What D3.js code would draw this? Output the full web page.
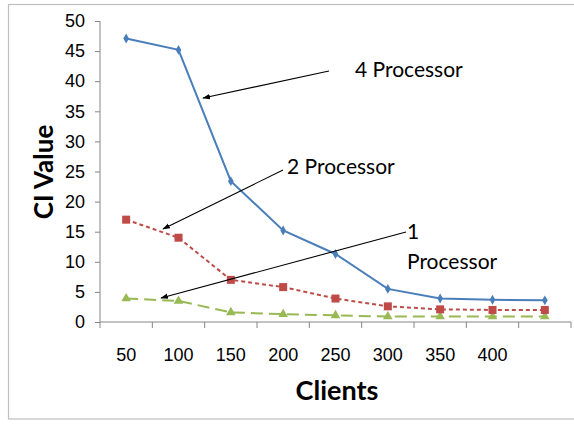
<!DOCTYPE html>
<html><head><meta charset="utf-8">
<script src="https://cdn.jsdelivr.net/npm/d3@7"></script>
<style>html,body{margin:0;padding:0;background:#fff;}svg{display:block;font-family:Lato,"Open Sans",sans-serif;}</style>
</head><body>
<svg id="c" width="574" height="424"></svg>
<script>
const clients = ["50","100","150","200","250","300","350","400","450"];
const tickLabels = ["50","100","150","200","250","300","350","400",""];
const p4 = [47.1, 45.2, 23.4, 15.2, 11.3, 5.5, 3.9, 3.7, 3.6];
const p2 = [17.0, 14.0, 7.0, 5.8, 3.9, 2.6, 2.1, 2.0, 2.0];
const p1 = [3.9, 3.5, 1.6, 1.3, 1.1, 0.9, 0.9, 0.9, 0.9];
const yTicks = [0,5,10,15,20,25,30,35,40,45,50];

const svg = d3.select("#c");
svg.append("rect").attr("x",8.5).attr("y",4.5).attr("width",570).attr("height",414.5)
  .attr("fill","#fff").attr("stroke","#bfbfbf").attr("stroke-width",1.2);

const L=100, R=571, T=21, B=322;
const x = d3.scaleBand().domain(clients).range([L,R]);
const y = d3.scaleLinear().domain([0,50]).range([B,T]);

// y axis
const ya = svg.append("g").attr("transform",`translate(${L},0)`)
  .call(d3.axisLeft(y).tickValues(yTicks).tickSize(5).tickPadding(10));
ya.selectAll("path").attr("stroke","#868686").attr("d",`M-0,${T}V${B}`);
ya.selectAll("line").attr("stroke","#868686");
ya.selectAll("text").attr("font-size",18).attr("fill","#000");

// x axis
const xa = svg.append("g").attr("transform",`translate(0,${B})`)
  .call(d3.axisBottom(x).tickSize(0).tickPadding(26).tickFormat((d,i)=>tickLabels[i]));
xa.selectAll("path").attr("stroke","#868686").attr("d",`M${L},0H${R}`);
xa.selectAll("text").attr("font-size",18).attr("fill","#000");
const bounds = clients.map(c=>x(c)).concat([R]);
xa.selectAll(".bt").data(bounds).enter().append("line")
  .attr("x1",d=>d).attr("x2",d=>d).attr("y1",0).attr("y2",6).attr("stroke","#868686");

// titles
svg.append("text").attr("x",337).attr("y",400).attr("text-anchor","middle")
  .attr("font-size",27).attr("font-weight","bold").text("Clients");
svg.append("text").attr("transform","translate(53,172) rotate(-90)").attr("text-anchor","middle")
  .attr("font-size",26).attr("font-weight","bold").text("CI Value");

const line = d3.line().x((d,i)=>x(clients[i])+x.bandwidth()/2).y(d=>y(d));
const cx = i=>x(clients[i])+x.bandwidth()/2;

// 1 processor
svg.append("path").datum(p1).attr("d",line).attr("fill","none").attr("stroke","#98b954")
  .attr("stroke-width",2).attr("stroke-dasharray","12,6");
svg.selectAll(".t1").data(p1).enter().append("path")
  .attr("d",d3.symbol(d3.symbolTriangle,40)).attr("fill","#98b954")
  .attr("transform",(d,i)=>`translate(${cx(i)},${y(d)})`);
// 2 processor
svg.append("path").datum(p2).attr("d",line).attr("fill","none").attr("stroke","#be4b48")
  .attr("stroke-width",2).attr("stroke-dasharray","4,3");
svg.selectAll(".s2").data(p2).enter().append("rect")
  .attr("x",(d,i)=>cx(i)-4).attr("y",d=>y(d)-4).attr("width",8).attr("height",8).attr("fill","#be4b48");
// 4 processor
svg.append("path").datum(p4).attr("d",line).attr("fill","none").attr("stroke","#4a7ebb").attr("stroke-width",2);
svg.selectAll(".d4").data(p4).enter().append("path")
  .attr("d",d3.symbol(d3.symbolDiamond,28)).attr("fill","#4a7ebb")
  .attr("transform",(d,i)=>`translate(${cx(i)},${y(d)})`);

// annotations
const defs = svg.append("defs");
defs.append("marker").attr("id","ah").attr("viewBox","0 0 10 10").attr("refX",9).attr("refY",5)
  .attr("markerWidth",7).attr("markerHeight",7).attr("orient","auto")
  .append("path").attr("d","M0,1.5L10,5L0,8.5Z").attr("fill","#000");
const arrows = [[329,71,203,98],[283,170,163,229],[406,232,161,298]];
arrows.forEach(a=>svg.append("line").attr("x1",a[0]).attr("y1",a[1]).attr("x2",a[2]).attr("y2",a[3])
  .attr("stroke","#000").attr("stroke-width",1.1).attr("marker-end","url(#ah)"));
const tx = svg.append("g").attr("font-size",21).attr("fill","#000");
tx.append("text").attr("x",355).attr("y",77).text("4 Processor");
tx.append("text").attr("x",287).attr("y",174).text("2 Processor");
tx.append("text").attr("x",407).attr("y",239).text("1");
tx.append("text").attr("x",407).attr("y",269).text("Processor");
</script>
</body></html>
